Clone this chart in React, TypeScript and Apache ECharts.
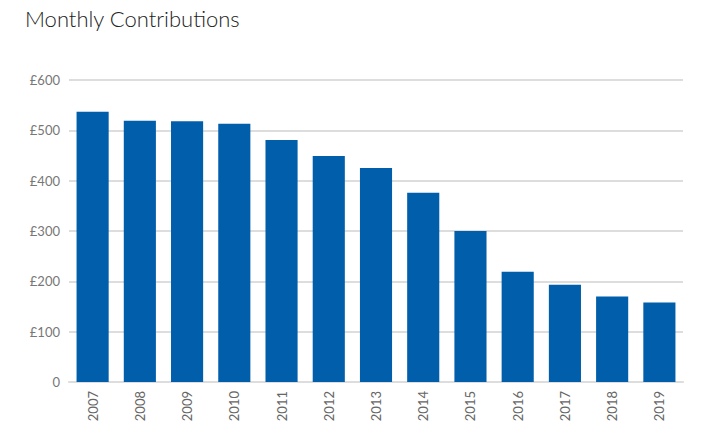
import { useEffect, useRef } from "react";
import * as echarts from "echarts";

const years = ["2007", "2008", "2009", "2010", "2011", "2012", "2013", "2014", "2015", "2016", "2017", "2018", "2019"];
const contributions = [537, 519, 518, 513, 481, 449, 425, 376, 300, 219, 193, 170, 158];

export default function App() {
  const ref = useRef<HTMLDivElement>(null);

  useEffect(() => {
    if (!ref.current) return;
    document.body.style.margin = "0";
    const chart = echarts.init(ref.current, null, { renderer: "svg" });
    chart.setOption({
      animation: false,
      backgroundColor: "#ffffff",
      textStyle: { fontFamily: "Lato" },
      title: {
        text: "Monthly Contributions",
        left: 20,
        top: 2,
        textStyle: { fontFamily: "Lato", fontSize: 22, fontWeight: 300, color: "#222" },
      },
      grid: { left: 69, right: 23, top: 80, bottom: 63 },
      xAxis: {
        type: "category",
        data: years,
        axisLine: { lineStyle: { color: "#dddddd", width: 2 } },
        axisTick: { show: false },
        axisLabel: { rotate: 90, color: "#666", fontSize: 13, margin: 9 },
      },
      yAxis: {
        type: "value",
        min: 0,
        max: 600,
        interval: 100,
        axisLine: { show: false },
        axisTick: { show: false },
        axisLabel: {
          color: "#777",
          fontSize: 13,
          margin: 9,
          formatter: (v: number) => (v === 0 ? "0" : `£${v}`),
        },
        splitLine: { lineStyle: { color: "#dddddd", width: 2 } },
      },
      series: [
        {
          type: "bar",
          data: contributions,
          barWidth: "68%",
          itemStyle: { color: "#005eab" },
        },
      ],
    });
    return () => chart.dispose();
  }, []);

  return <div ref={ref} style={{ width: 706, height: 445 }} />;
}
